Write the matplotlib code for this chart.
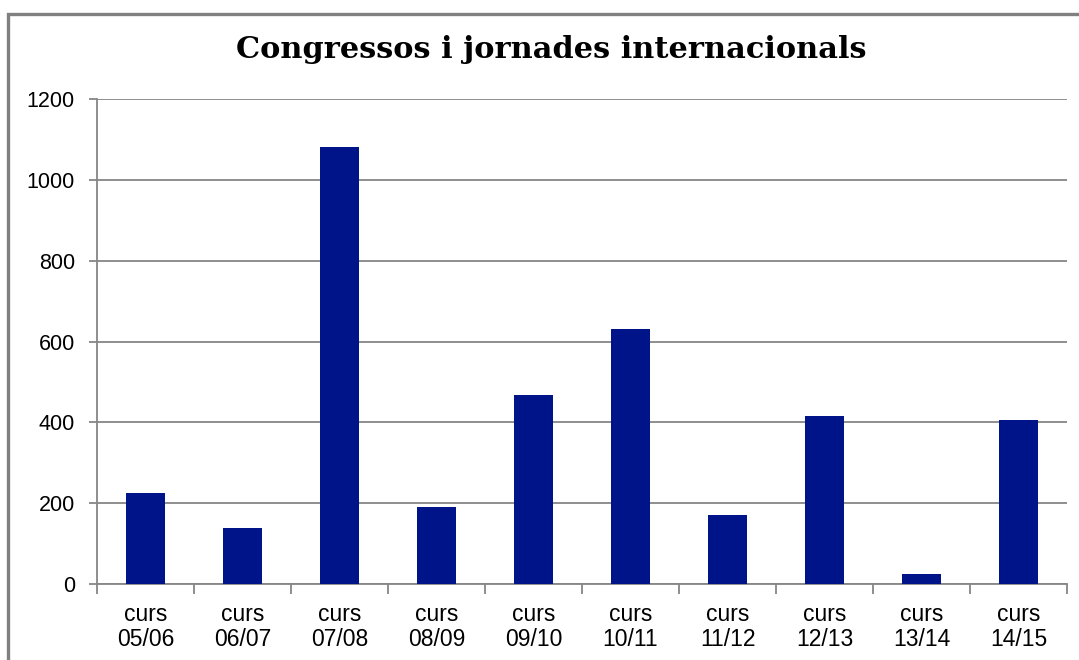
import matplotlib
matplotlib.use("Agg")
import matplotlib.pyplot as plt
from matplotlib.patches import Rectangle

# Chart data
courses = ["05/06", "06/07", "07/08", "08/09", "09/10",
           "10/11", "11/12", "12/13", "13/14", "14/15"]
values = [225, 138, 1081, 190, 467, 630, 171, 415, 25, 405]
y_ticks = [0, 200, 400, 600, 800, 1000, 1200]

labels = ["curs\n" + c for c in courses]
bar_color = "#00148A"
gray = "#868686"

plt.rcParams["font.family"] = ["Liberation Sans", "DejaVu Sans"]

fig = plt.figure(figsize=(10.79, 6.60), dpi=100)
ax = fig.add_axes([97 / 1079, 1 - 584 / 660, 970 / 1079, 485 / 660])

x = list(range(len(courses)))
ax.bar(x, values, width=0.4, color=bar_color, zorder=3)

ax.set_xlim(-0.5, len(courses) - 0.5)
ax.set_ylim(0, 1200)
ax.set_yticks(y_ticks)
ax.set_yticklabels([str(v) for v in y_ticks])
ax.yaxis.grid(True, color=gray, linewidth=1.3, zorder=0)

ax.set_xticks(x)
ax.set_xticklabels(labels, linespacing=1.1)
ax.set_xticks([i - 0.5 for i in range(len(courses) + 1)], minor=True)
ax.tick_params(axis="x", which="major", length=0, pad=14, labelsize=16.5)
ax.tick_params(axis="x", which="minor", length=7, width=1.3, color=gray)
ax.tick_params(axis="y", length=6, width=1.3, color=gray, pad=10, labelsize=15.5)

for side in ["top", "right"]:
    ax.spines[side].set_visible(False)
for side in ["left", "bottom"]:
    ax.spines[side].set_color(gray)
    ax.spines[side].set_linewidth(1.3)

fig.text(551 / 1079, 1 - 50 / 660, "Congressos i jornades internacionals",
         ha="center", va="center", fontsize=21.9, fontweight="bold",
         family=["DejaVu Serif"])

# outer chart border (only left and top edges are inside the picture)
fig.patches.append(Rectangle((8 / 1079, -0.2), 1.2, 1.2 - 14 / 660,
                             transform=fig.transFigure, fill=False,
                             edgecolor="#808080", linewidth=2.4))

fig.savefig("out.png", dpi=100)
